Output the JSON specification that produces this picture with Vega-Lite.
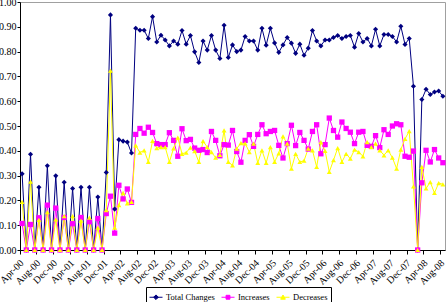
{
  "$schema": "https://vega.github.io/schema/vega-lite/v6.json",
  "width": 425,
  "height": 248,
  "autosize": {"type": "none"},
  "padding": {"left": 20, "top": 2, "right": 1, "bottom": 52},
  "background": "white",
  "config": {
    "view": {"stroke": "#a0a0a0", "strokeWidth": 1},
    "font": "Liberation Serif",
    "axis": {
      "labelFont": "Liberation Serif",
      "labelColor": "black",
      "domainColor": "#000000",
      "tickColor": "#000000",
      "grid": false,
      "title": null
    }
  },
  "data": {
    "values": [
      {"m": "Apr-00", "s": "Total Changes", "v": 0.307},
      {"m": "May-00", "s": "Total Changes", "v": 0},
      {"m": "Jun-00", "s": "Total Changes", "v": 0.386},
      {"m": "Jul-00", "s": "Total Changes", "v": 0},
      {"m": "Aug-00", "s": "Total Changes", "v": 0.253},
      {"m": "Sep-00", "s": "Total Changes", "v": 0},
      {"m": "Oct-00", "s": "Total Changes", "v": 0.340},
      {"m": "Nov-00", "s": "Total Changes", "v": 0},
      {"m": "Dec-00", "s": "Total Changes", "v": 0.299},
      {"m": "Jan-01", "s": "Total Changes", "v": 0},
      {"m": "Feb-01", "s": "Total Changes", "v": 0.273},
      {"m": "Mar-01", "s": "Total Changes", "v": 0},
      {"m": "Apr-01", "s": "Total Changes", "v": 0.248},
      {"m": "May-01", "s": "Total Changes", "v": 0},
      {"m": "Jun-01", "s": "Total Changes", "v": 0.253},
      {"m": "Jul-01", "s": "Total Changes", "v": 0},
      {"m": "Aug-01", "s": "Total Changes", "v": 0.253},
      {"m": "Sep-01", "s": "Total Changes", "v": 0},
      {"m": "Oct-01", "s": "Total Changes", "v": 0.214},
      {"m": "Nov-01", "s": "Total Changes", "v": 0},
      {"m": "Dec-01", "s": "Total Changes", "v": 0.313},
      {"m": "Jan-02", "s": "Total Changes", "v": 0.948},
      {"m": "Feb-02", "s": "Total Changes", "v": 0.165},
      {"m": "Mar-02", "s": "Total Changes", "v": 0.445},
      {"m": "Apr-02", "s": "Total Changes", "v": 0.439},
      {"m": "May-02", "s": "Total Changes", "v": 0.435},
      {"m": "Jun-02", "s": "Total Changes", "v": 0.391},
      {"m": "Jul-02", "s": "Total Changes", "v": 0.894},
      {"m": "Aug-02", "s": "Total Changes", "v": 0.886},
      {"m": "Sep-02", "s": "Total Changes", "v": 0.886},
      {"m": "Oct-02", "s": "Total Changes", "v": 0.853},
      {"m": "Nov-02", "s": "Total Changes", "v": 0.941},
      {"m": "Dec-02", "s": "Total Changes", "v": 0.839},
      {"m": "Jan-03", "s": "Total Changes", "v": 0.866},
      {"m": "Feb-03", "s": "Total Changes", "v": 0.847},
      {"m": "Mar-03", "s": "Total Changes", "v": 0.823},
      {"m": "Apr-03", "s": "Total Changes", "v": 0.843},
      {"m": "May-03", "s": "Total Changes", "v": 0.830},
      {"m": "Jun-03", "s": "Total Changes", "v": 0.885},
      {"m": "Jul-03", "s": "Total Changes", "v": 0.830},
      {"m": "Aug-03", "s": "Total Changes", "v": 0.865},
      {"m": "Sep-03", "s": "Total Changes", "v": 0.799},
      {"m": "Oct-03", "s": "Total Changes", "v": 0.756},
      {"m": "Nov-03", "s": "Total Changes", "v": 0.843},
      {"m": "Dec-03", "s": "Total Changes", "v": 0.806},
      {"m": "Jan-04", "s": "Total Changes", "v": 0.865},
      {"m": "Feb-04", "s": "Total Changes", "v": 0.806},
      {"m": "Mar-04", "s": "Total Changes", "v": 0.772},
      {"m": "Apr-04", "s": "Total Changes", "v": 0.906},
      {"m": "May-04", "s": "Total Changes", "v": 0.776},
      {"m": "Jun-04", "s": "Total Changes", "v": 0.827},
      {"m": "Jul-04", "s": "Total Changes", "v": 0.800},
      {"m": "Aug-04", "s": "Total Changes", "v": 0.806},
      {"m": "Sep-04", "s": "Total Changes", "v": 0.861},
      {"m": "Oct-04", "s": "Total Changes", "v": 0.843},
      {"m": "Nov-04", "s": "Total Changes", "v": 0.843},
      {"m": "Dec-04", "s": "Total Changes", "v": 0.806},
      {"m": "Jan-05", "s": "Total Changes", "v": 0.894},
      {"m": "Feb-05", "s": "Total Changes", "v": 0.826},
      {"m": "Mar-05", "s": "Total Changes", "v": 0.894},
      {"m": "Apr-05", "s": "Total Changes", "v": 0.835},
      {"m": "May-05", "s": "Total Changes", "v": 0.797},
      {"m": "Jun-05", "s": "Total Changes", "v": 0.827},
      {"m": "Jul-05", "s": "Total Changes", "v": 0.857},
      {"m": "Aug-05", "s": "Total Changes", "v": 0.834},
      {"m": "Sep-05", "s": "Total Changes", "v": 0.793},
      {"m": "Oct-05", "s": "Total Changes", "v": 0.830},
      {"m": "Nov-05", "s": "Total Changes", "v": 0.785},
      {"m": "Dec-05", "s": "Total Changes", "v": 0.814},
      {"m": "Jan-06", "s": "Total Changes", "v": 0.885},
      {"m": "Feb-06", "s": "Total Changes", "v": 0.843},
      {"m": "Mar-06", "s": "Total Changes", "v": 0.823},
      {"m": "Apr-06", "s": "Total Changes", "v": 0.847},
      {"m": "May-06", "s": "Total Changes", "v": 0.847},
      {"m": "Jun-06", "s": "Total Changes", "v": 0.857},
      {"m": "Jul-06", "s": "Total Changes", "v": 0.865},
      {"m": "Aug-06", "s": "Total Changes", "v": 0.853},
      {"m": "Sep-06", "s": "Total Changes", "v": 0.861},
      {"m": "Oct-06", "s": "Total Changes", "v": 0.865},
      {"m": "Nov-06", "s": "Total Changes", "v": 0.818},
      {"m": "Dec-06", "s": "Total Changes", "v": 0.873},
      {"m": "Jan-07", "s": "Total Changes", "v": 0.839},
      {"m": "Feb-07", "s": "Total Changes", "v": 0.853},
      {"m": "Mar-07", "s": "Total Changes", "v": 0.823},
      {"m": "Apr-07", "s": "Total Changes", "v": 0.890},
      {"m": "May-07", "s": "Total Changes", "v": 0.823},
      {"m": "Jun-07", "s": "Total Changes", "v": 0.869},
      {"m": "Jul-07", "s": "Total Changes", "v": 0.869},
      {"m": "Aug-07", "s": "Total Changes", "v": 0.861},
      {"m": "Sep-07", "s": "Total Changes", "v": 0.839},
      {"m": "Oct-07", "s": "Total Changes", "v": 0.902},
      {"m": "Nov-07", "s": "Total Changes", "v": 0.829},
      {"m": "Dec-07", "s": "Total Changes", "v": 0.853},
      {"m": "Jan-08", "s": "Total Changes", "v": 0.660},
      {"m": "Feb-08", "s": "Total Changes", "v": 0},
      {"m": "Mar-08", "s": "Total Changes", "v": 0.607},
      {"m": "Apr-08", "s": "Total Changes", "v": 0.648},
      {"m": "May-08", "s": "Total Changes", "v": 0.627},
      {"m": "Jun-08", "s": "Total Changes", "v": 0.637},
      {"m": "Jul-08", "s": "Total Changes", "v": 0.641},
      {"m": "Aug-08", "s": "Total Changes", "v": 0.620},

      {"m": "Apr-00", "s": "Increases", "v": 0.107},
      {"m": "May-00", "s": "Increases", "v": 0},
      {"m": "Jun-00", "s": "Increases", "v": 0.103},
      {"m": "Jul-00", "s": "Increases", "v": 0},
      {"m": "Aug-00", "s": "Increases", "v": 0.130},
      {"m": "Sep-00", "s": "Increases", "v": 0},
      {"m": "Oct-00", "s": "Increases", "v": 0.181},
      {"m": "Nov-00", "s": "Increases", "v": 0},
      {"m": "Dec-00", "s": "Increases", "v": 0.169},
      {"m": "Jan-01", "s": "Increases", "v": 0},
      {"m": "Feb-01", "s": "Increases", "v": 0.131},
      {"m": "Mar-01", "s": "Increases", "v": 0},
      {"m": "Apr-01", "s": "Increases", "v": 0.106},
      {"m": "May-01", "s": "Increases", "v": 0},
      {"m": "Jun-01", "s": "Increases", "v": 0.131},
      {"m": "Jul-01", "s": "Increases", "v": 0},
      {"m": "Aug-01", "s": "Increases", "v": 0.114},
      {"m": "Sep-01", "s": "Increases", "v": 0},
      {"m": "Oct-01", "s": "Increases", "v": 0.127},
      {"m": "Nov-01", "s": "Increases", "v": 0},
      {"m": "Dec-01", "s": "Increases", "v": 0.147},
      {"m": "Jan-02", "s": "Increases", "v": 0.217},
      {"m": "Feb-02", "s": "Increases", "v": 0.068},
      {"m": "Mar-02", "s": "Increases", "v": 0.261},
      {"m": "Apr-02", "s": "Increases", "v": 0.206},
      {"m": "May-02", "s": "Increases", "v": 0.246},
      {"m": "Jun-02", "s": "Increases", "v": 0.192},
      {"m": "Jul-02", "s": "Increases", "v": 0.466},
      {"m": "Aug-02", "s": "Increases", "v": 0.490},
      {"m": "Sep-02", "s": "Increases", "v": 0.471},
      {"m": "Oct-02", "s": "Increases", "v": 0.495},
      {"m": "Nov-02", "s": "Increases", "v": 0.474},
      {"m": "Dec-02", "s": "Increases", "v": 0.429},
      {"m": "Jan-03", "s": "Increases", "v": 0.425},
      {"m": "Feb-03", "s": "Increases", "v": 0.425},
      {"m": "Mar-03", "s": "Increases", "v": 0.473},
      {"m": "Apr-03", "s": "Increases", "v": 0.442},
      {"m": "May-03", "s": "Increases", "v": 0.378},
      {"m": "Jun-03", "s": "Increases", "v": 0.489},
      {"m": "Jul-03", "s": "Increases", "v": 0.441},
      {"m": "Aug-03", "s": "Increases", "v": 0.446},
      {"m": "Sep-03", "s": "Increases", "v": 0.411},
      {"m": "Oct-03", "s": "Increases", "v": 0.402},
      {"m": "Nov-03", "s": "Increases", "v": 0.405},
      {"m": "Dec-03", "s": "Increases", "v": 0.393},
      {"m": "Jan-04", "s": "Increases", "v": 0.478},
      {"m": "Feb-04", "s": "Increases", "v": 0.442},
      {"m": "Mar-04", "s": "Increases", "v": 0.380},
      {"m": "Apr-04", "s": "Increases", "v": 0.425},
      {"m": "May-04", "s": "Increases", "v": 0.423},
      {"m": "Jun-04", "s": "Increases", "v": 0.482},
      {"m": "Jul-04", "s": "Increases", "v": 0.397},
      {"m": "Aug-04", "s": "Increases", "v": 0.354},
      {"m": "Sep-04", "s": "Increases", "v": 0.442},
      {"m": "Oct-04", "s": "Increases", "v": 0.465},
      {"m": "Nov-04", "s": "Increases", "v": 0.418},
      {"m": "Dec-04", "s": "Increases", "v": 0.466},
      {"m": "Jan-05", "s": "Increases", "v": 0.505},
      {"m": "Feb-05", "s": "Increases", "v": 0.469},
      {"m": "Mar-05", "s": "Increases", "v": 0.478},
      {"m": "Apr-05", "s": "Increases", "v": 0.482},
      {"m": "May-05", "s": "Increases", "v": 0.422},
      {"m": "Jun-05", "s": "Increases", "v": 0.371},
      {"m": "Jul-05", "s": "Increases", "v": 0.429},
      {"m": "Aug-05", "s": "Increases", "v": 0.503},
      {"m": "Sep-05", "s": "Increases", "v": 0.421},
      {"m": "Oct-05", "s": "Increases", "v": 0.474},
      {"m": "Nov-05", "s": "Increases", "v": 0.442},
      {"m": "Dec-05", "s": "Increases", "v": 0.407},
      {"m": "Jan-06", "s": "Increases", "v": 0.478},
      {"m": "Feb-06", "s": "Increases", "v": 0.505},
      {"m": "Mar-06", "s": "Increases", "v": 0.388},
      {"m": "Apr-06", "s": "Increases", "v": 0.425},
      {"m": "May-06", "s": "Increases", "v": 0.532},
      {"m": "Jun-06", "s": "Increases", "v": 0.482},
      {"m": "Jul-06", "s": "Increases", "v": 0.455},
      {"m": "Aug-06", "s": "Increases", "v": 0.516},
      {"m": "Sep-06", "s": "Increases", "v": 0.490},
      {"m": "Oct-06", "s": "Increases", "v": 0.475},
      {"m": "Nov-06", "s": "Increases", "v": 0.429},
      {"m": "Dec-06", "s": "Increases", "v": 0.475},
      {"m": "Jan-07", "s": "Increases", "v": 0.478},
      {"m": "Feb-07", "s": "Increases", "v": 0.422},
      {"m": "Mar-07", "s": "Increases", "v": 0.418},
      {"m": "Apr-07", "s": "Increases", "v": 0.461},
      {"m": "May-07", "s": "Increases", "v": 0.413},
      {"m": "Jun-07", "s": "Increases", "v": 0.485},
      {"m": "Jul-07", "s": "Increases", "v": 0.466},
      {"m": "Aug-07", "s": "Increases", "v": 0.500},
      {"m": "Sep-07", "s": "Increases", "v": 0.509},
      {"m": "Oct-07", "s": "Increases", "v": 0.505},
      {"m": "Nov-07", "s": "Increases", "v": 0.378},
      {"m": "Dec-07", "s": "Increases", "v": 0.374},
      {"m": "Jan-08", "s": "Increases", "v": 0.399},
      {"m": "Feb-08", "s": "Increases", "v": 0},
      {"m": "Mar-08", "s": "Increases", "v": 0.271},
      {"m": "Apr-08", "s": "Increases", "v": 0.402},
      {"m": "May-08", "s": "Increases", "v": 0.355},
      {"m": "Jun-08", "s": "Increases", "v": 0.405},
      {"m": "Jul-08", "s": "Increases", "v": 0.371},
      {"m": "Aug-08", "s": "Increases", "v": 0.352},

      {"m": "Apr-00", "s": "Decreases", "v": 0.194},
      {"m": "May-00", "s": "Decreases", "v": 0},
      {"m": "Jun-00", "s": "Decreases", "v": 0.276},
      {"m": "Jul-00", "s": "Decreases", "v": 0},
      {"m": "Aug-00", "s": "Decreases", "v": 0.121},
      {"m": "Sep-00", "s": "Decreases", "v": 0},
      {"m": "Oct-00", "s": "Decreases", "v": 0.153},
      {"m": "Nov-00", "s": "Decreases", "v": 0},
      {"m": "Dec-00", "s": "Decreases", "v": 0.123},
      {"m": "Jan-01", "s": "Decreases", "v": 0},
      {"m": "Feb-01", "s": "Decreases", "v": 0.137},
      {"m": "Mar-01", "s": "Decreases", "v": 0},
      {"m": "Apr-01", "s": "Decreases", "v": 0.137},
      {"m": "May-01", "s": "Decreases", "v": 0},
      {"m": "Jun-01", "s": "Decreases", "v": 0.118},
      {"m": "Jul-01", "s": "Decreases", "v": 0},
      {"m": "Aug-01", "s": "Decreases", "v": 0.131},
      {"m": "Sep-01", "s": "Decreases", "v": 0},
      {"m": "Oct-01", "s": "Decreases", "v": 0.090},
      {"m": "Nov-01", "s": "Decreases", "v": 0},
      {"m": "Dec-01", "s": "Decreases", "v": 0.161},
      {"m": "Jan-02", "s": "Decreases", "v": 0.723},
      {"m": "Feb-02", "s": "Decreases", "v": 0.090},
      {"m": "Mar-02", "s": "Decreases", "v": 0.181},
      {"m": "Apr-02", "s": "Decreases", "v": 0.230},
      {"m": "May-02", "s": "Decreases", "v": 0.188},
      {"m": "Jun-02", "s": "Decreases", "v": 0.194},
      {"m": "Jul-02", "s": "Decreases", "v": 0.422},
      {"m": "Aug-02", "s": "Decreases", "v": 0.393},
      {"m": "Sep-02", "s": "Decreases", "v": 0.402},
      {"m": "Oct-02", "s": "Decreases", "v": 0.355},
      {"m": "Nov-02", "s": "Decreases", "v": 0.440},
      {"m": "Dec-02", "s": "Decreases", "v": 0.411},
      {"m": "Jan-03", "s": "Decreases", "v": 0.415},
      {"m": "Feb-03", "s": "Decreases", "v": 0.415},
      {"m": "Mar-03", "s": "Decreases", "v": 0.355},
      {"m": "Apr-03", "s": "Decreases", "v": 0.410},
      {"m": "May-03", "s": "Decreases", "v": 0.453},
      {"m": "Jun-03", "s": "Decreases", "v": 0.388},
      {"m": "Jul-03", "s": "Decreases", "v": 0.393},
      {"m": "Aug-03", "s": "Decreases", "v": 0.413},
      {"m": "Sep-03", "s": "Decreases", "v": 0.399},
      {"m": "Oct-03", "s": "Decreases", "v": 0.355},
      {"m": "Nov-03", "s": "Decreases", "v": 0.439},
      {"m": "Dec-03", "s": "Decreases", "v": 0.415},
      {"m": "Jan-04", "s": "Decreases", "v": 0.395},
      {"m": "Feb-04", "s": "Decreases", "v": 0.372},
      {"m": "Mar-04", "s": "Decreases", "v": 0.384},
      {"m": "Apr-04", "s": "Decreases", "v": 0.482},
      {"m": "May-04", "s": "Decreases", "v": 0.355},
      {"m": "Jun-04", "s": "Decreases", "v": 0.341},
      {"m": "Jul-04", "s": "Decreases", "v": 0.409},
      {"m": "Aug-04", "s": "Decreases", "v": 0.431},
      {"m": "Sep-04", "s": "Decreases", "v": 0.430},
      {"m": "Oct-04", "s": "Decreases", "v": 0.395},
      {"m": "Nov-04", "s": "Decreases", "v": 0.429},
      {"m": "Dec-04", "s": "Decreases", "v": 0.351},
      {"m": "Jan-05", "s": "Decreases", "v": 0.402},
      {"m": "Feb-05", "s": "Decreases", "v": 0.351},
      {"m": "Mar-05", "s": "Decreases", "v": 0.415},
      {"m": "Apr-05", "s": "Decreases", "v": 0.355},
      {"m": "May-05", "s": "Decreases", "v": 0.390},
      {"m": "Jun-05", "s": "Decreases", "v": 0.458},
      {"m": "Jul-05", "s": "Decreases", "v": 0.429},
      {"m": "Aug-05", "s": "Decreases", "v": 0.328},
      {"m": "Sep-05", "s": "Decreases", "v": 0.388},
      {"m": "Oct-05", "s": "Decreases", "v": 0.355},
      {"m": "Nov-05", "s": "Decreases", "v": 0.360},
      {"m": "Dec-05", "s": "Decreases", "v": 0.409},
      {"m": "Jan-06", "s": "Decreases", "v": 0.402},
      {"m": "Feb-06", "s": "Decreases", "v": 0.335},
      {"m": "Mar-06", "s": "Decreases", "v": 0.435},
      {"m": "Apr-06", "s": "Decreases", "v": 0.400},
      {"m": "May-06", "s": "Decreases", "v": 0.315},
      {"m": "Jun-06", "s": "Decreases", "v": 0.362},
      {"m": "Jul-06", "s": "Decreases", "v": 0.411},
      {"m": "Aug-06", "s": "Decreases", "v": 0.355},
      {"m": "Sep-06", "s": "Decreases", "v": 0.388},
      {"m": "Oct-06", "s": "Decreases", "v": 0.368},
      {"m": "Nov-06", "s": "Decreases", "v": 0.405},
      {"m": "Dec-06", "s": "Decreases", "v": 0.395},
      {"m": "Jan-07", "s": "Decreases", "v": 0.378},
      {"m": "Feb-07", "s": "Decreases", "v": 0.435},
      {"m": "Mar-07", "s": "Decreases", "v": 0.415},
      {"m": "Apr-07", "s": "Decreases", "v": 0.429},
      {"m": "May-07", "s": "Decreases", "v": 0.402},
      {"m": "Jun-07", "s": "Decreases", "v": 0.382},
      {"m": "Jul-07", "s": "Decreases", "v": 0.402},
      {"m": "Aug-07", "s": "Decreases", "v": 0.372},
      {"m": "Sep-07", "s": "Decreases", "v": 0.328},
      {"m": "Oct-07", "s": "Decreases", "v": 0.405},
      {"m": "Nov-07", "s": "Decreases", "v": 0.448},
      {"m": "Dec-07", "s": "Decreases", "v": 0.479},
      {"m": "Jan-08", "s": "Decreases", "v": 0.257},
      {"m": "Feb-08", "s": "Decreases", "v": 0},
      {"m": "Mar-08", "s": "Decreases", "v": 0.335},
      {"m": "Apr-08", "s": "Decreases", "v": 0.248},
      {"m": "May-08", "s": "Decreases", "v": 0.274},
      {"m": "Jun-08", "s": "Decreases", "v": 0.230},
      {"m": "Jul-08", "s": "Decreases", "v": 0.270},
      {"m": "Aug-08", "s": "Decreases", "v": 0.265}
    ]
  },
  "encoding": {
    "x": {
      "field": "m",
      "type": "ordinal",
      "sort": null,
      "bandPosition": 0.5,
      "scale": {"type": "band", "paddingInner": 0, "paddingOuter": 0},
      "axis": {
        "values": ["Apr-00", "Aug-00", "Dec-00", "Apr-01", "Aug-01", "Dec-01", "Apr-02", "Aug-02", "Dec-02", "Apr-03", "Aug-03", "Dec-03", "Apr-04", "Aug-04", "Dec-04", "Apr-05", "Aug-05", "Dec-05", "Apr-06", "Aug-06", "Dec-06", "Apr-07", "Aug-07", "Dec-07", "Apr-08", "Aug-08"],
        "bandPosition": 0,
        "labelAngle": -45,
        "labelAlign": "right",
        "labelBaseline": "middle",
        "labelFontSize": 10,
        "labelPadding": 7,
        "tickSize": 4,
        "labelOverlap": false
      }
    },
    "y": {
      "field": "v",
      "type": "quantitative",
      "scale": {"domain": [0, 1], "nice": false, "zero": true},
      "axis": {
        "values": [0, 0.1, 0.2, 0.3, 0.4, 0.5, 0.6, 0.7, 0.8, 0.9, 1],
        "format": ".2f",
        "labelFontSize": 10,
        "tickSize": 3,
        "labelPadding": 1,
        "labelOverlap": false
      }
    },
    "color": {
      "field": "s",
      "type": "nominal",
      "scale": {
        "domain": ["Total Changes", "Increases", "Decreases"],
        "range": ["#000080", "#FF00FF", "#FFFF00"]
      },
      "legend": {
        "title": null,
        "orient": "none",
        "legendX": 126,
        "legendY": 285,
        "direction": "horizontal",
        "labelFont": "Liberation Serif",
        "labelFontSize": 8.5,
        "labelColor": "black",
        "symbolSize": 169,
        "symbolStrokeWidth": 1,
        "columnPadding": 4,
        "labelOffset": 3,
        "strokeColor": "#000000",
        "fillColor": "white",
        "padding": 3,
        "encode": {
          "symbols": {
            "update": {
              "shape": {"signal": "datum.value === 'Total Changes' ? 'M-1,0H1M0,-0.36L0.36,0L0,0.36L-0.36,0Z' : datum.value === 'Increases' ? 'M-1,0H1M-0.3,-0.3H0.3V0.3H-0.3Z' : 'M-1,0H1M0,-0.34L0.36,0.3H-0.36Z'"},
              "fill": {"signal": "scale('color', datum.value)"},
              "stroke": {"signal": "scale('color', datum.value)"},
              "strokeWidth": {"value": 1},
              "opacity": {"value": 1}
            }
          }
        }
      }
    }
  },
  "layer": [
    {"mark": {"type": "line", "strokeWidth": 1}},
    {
      "transform": [{"filter": "datum.s === 'Total Changes'"}],
      "mark": {"type": "point", "shape": "diamond", "filled": true, "opacity": 1, "size": 26}
    },
    {
      "transform": [{"filter": "datum.s === 'Increases'"}],
      "mark": {"type": "point", "shape": "square", "filled": true, "opacity": 1, "size": 28}
    },
    {
      "transform": [{"filter": "datum.s === 'Decreases'"}],
      "mark": {"type": "point", "shape": "triangle-up", "filled": true, "opacity": 1, "size": 24}
    }
  ]
}
